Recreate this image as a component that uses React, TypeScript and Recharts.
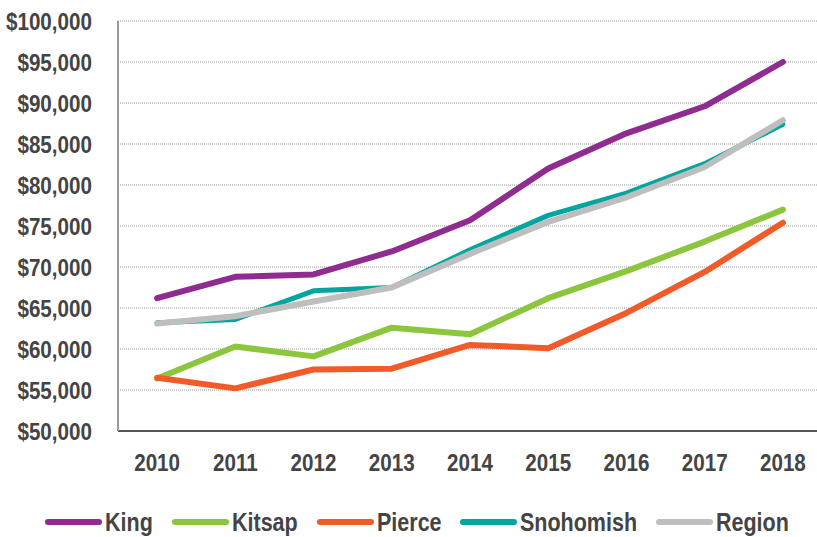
import { LineChart, Line, XAxis, YAxis, CartesianGrid, Legend } from "recharts";

const years = [2010, 2011, 2012, 2013, 2014, 2015, 2016, 2017, 2018];
const king = [66200, 68800, 69100, 71900, 75700, 82000, 86300, 89600, 95000];
const kitsap = [56400, 60300, 59100, 62600, 61800, 66200, 69500, 73100, 77000];
const pierce = [56500, 55200, 57500, 57600, 60500, 60100, 64400, 69400, 75400];
const snohomish = [63200, 63600, 67100, 67500, 72100, 76300, 79000, 82600, 87400];
const region = [63100, 64000, 65800, 67500, 71600, 75500, 78500, 82200, 87900];

const yTicks = [50000, 55000, 60000, 65000, 70000, 75000, 80000, 85000, 90000, 95000, 100000];
const markTicks = [2010.5, 2011.5, 2012.5, 2013.5, 2014.5, 2015.5, 2016.5, 2017.5];

const series = [
  { key: "King", values: king, color: "#902B8F", width: 6 },
  { key: "Kitsap", values: kitsap, color: "#8CC63E", width: 6 },
  { key: "Pierce", values: pierce, color: "#F15B2A", width: 6 },
  { key: "Snohomish", values: snohomish, color: "#00A59F", width: 5 },
  { key: "Region", values: region, color: "#BEBEBE", width: 6 },
];

const data = years.map((year, i) => {
  const row: Record<string, number> = { year };
  series.forEach((s) => (row[s.key] = s.values[i]));
  return row;
});

// condensed look: Liberation Sans bold squeezed horizontally
const font = "'Liberation Sans', Arial, sans-serif";
const squeeze = 0.86;

const measure = (text: string, size: number) => {
  const ctx = document.createElement("canvas").getContext("2d");
  if (!ctx) return text.length * size * 0.55;
  ctx.font = `bold ${size}px ${font}`;
  return ctx.measureText(text).width;
};

const XTick = (props: any) => {
  const { x, y, payload } = props;
  return (
    <g transform={`translate(${x},${y})`}>
      <text
        transform={`scale(${squeeze},1)`}
        textAnchor="middle"
        dy="0.71em"
        fill="#444"
        fontFamily={font}
        fontWeight="bold"
        fontSize={24}
      >
        {payload.value}
      </text>
    </g>
  );
};

const YTick = (props: any) => {
  const { x, y, payload } = props;
  return (
    <g transform={`translate(${x},${y})`}>
      <text
        transform={`scale(${squeeze},1)`}
        textAnchor="end"
        dy="0.355em"
        fill="#444"
        fontFamily={font}
        fontWeight="bold"
        fontSize={24}
      >
        {"$" + payload.value.toLocaleString("en-US")}
      </text>
    </g>
  );
};

const LegendContent = () => (
  <div
    style={{
      display: "flex",
      justifyContent: "center",
      alignItems: "center",
      height: 30,
      paddingLeft: 12,
      fontFamily: font,
      fontWeight: "bold",
      fontSize: 25,
      color: "#444",
    }}
  >
    {series.map((s, i) => (
      <div
        key={s.key}
        style={{ display: "flex", alignItems: "center", marginRight: i < series.length - 1 ? 19 : 0 }}
      >
        <span
          style={{
            display: "inline-block",
            width: 57,
            height: 6,
            borderRadius: 3,
            background: s.color,
            marginRight: 3,
          }}
        />
        <span
          style={{
            display: "inline-block",
            width: measure(s.key, 25) * squeeze,
            whiteSpace: "nowrap",
            lineHeight: "30px",
          }}
        >
          <span style={{ display: "inline-block", transform: `scaleX(${squeeze})`, transformOrigin: "left center" }}>
            {s.key}
          </span>
        </span>
      </div>
    ))}
  </div>
);

export default function App() {
  return (
    <div
      style={{
        position: "absolute",
        left: 0,
        top: 0,
        width: 817,
        height: 537,
        overflow: "hidden",
        background: "#fff",
      }}
    >
      <LineChart width={822} height={537} data={data} margin={{ top: 21, right: 0, left: 0, bottom: 0 }}>
        <CartesianGrid vertical={false} stroke="#999" strokeDasharray="1 1" />
        <XAxis
          xAxisId="marks"
          dataKey="year"
          type="number"
          domain={[2009.5, 2018.5]}
          ticks={markTicks}
          height={1}
          tickSize={-8}
          tick={false}
          axisLine={false}
          tickLine={{ stroke: "#555", strokeWidth: 2 }}
        />
        <XAxis
          dataKey="year"
          type="number"
          domain={[2009.5, 2018.5]}
          ticks={years}
          height={75}
          tickLine={false}
          tickSize={0}
          tickMargin={23}
          axisLine={{ stroke: "#555", strokeWidth: 2 }}
          tick={<XTick />}
        />
        <YAxis
          domain={[50000, 100000]}
          ticks={yTicks}
          width={118}
          tickLine={false}
          tickSize={0}
          tickMargin={26}
          axisLine={{ stroke: "#999", strokeWidth: 2 }}
          tick={<YTick />}
        />
        <Legend verticalAlign="bottom" content={<LegendContent />} />
        {series.map((s) => (
          <Line
            key={s.key}
            dataKey={s.key}
            stroke={s.color}
            strokeWidth={s.width}
            strokeLinejoin="round"
            strokeLinecap="round"
            dot={false}
            activeDot={false}
            isAnimationActive={false}
          />
        ))}
      </LineChart>
    </div>
  );
}
